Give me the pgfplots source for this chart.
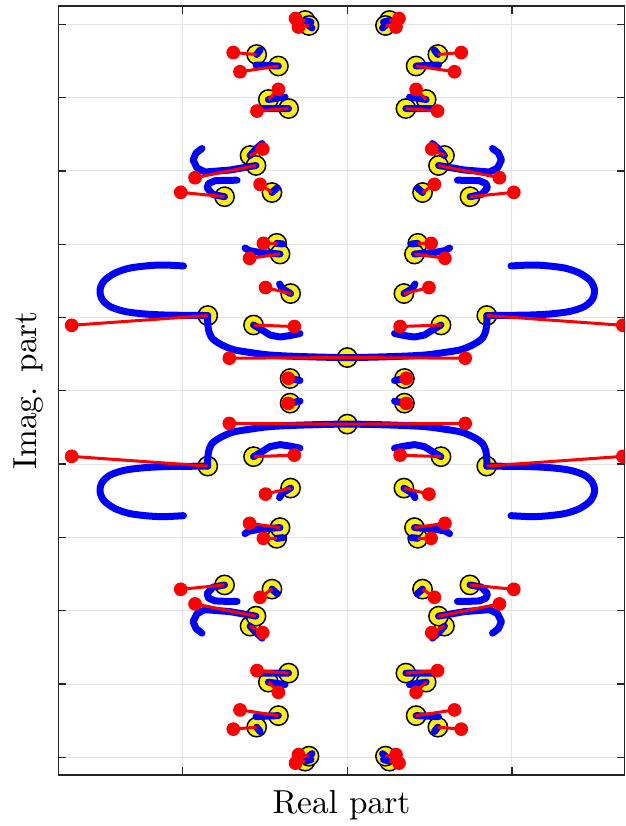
\documentclass[border=0pt]{standalone}
\usepackage{pgfplots}
\pgfplotsset{compat=1.18}
\begin{document}
\begin{tikzpicture}
\begin{axis}[
  scale only axis, width=169.9pt, height=230.7pt,
  xmin=-1.754, xmax=1.684, ymin=-5.241, ymax=5.25,
  xtick={-1,0,1}, ytick={-5,-4,-3,-2,-1,0,1,2,3,4,5},
  xticklabels={}, yticklabels={},
  tick align=inside, major tick length=2.4pt,
  grid=major, grid style={color=gray!20, line width=0.3pt},
  axis line style={color=black!85, line width=0.4pt},
  tick style={color=black!85, line width=0.4pt},
  xlabel={Real part}, ylabel={Imag. part},
  xlabel style={at={(axis description cs:0.5,-0.0507)}, anchor=base},
  ylabel style={at={(axis description cs:-0.0394,0.5)}, anchor=base},
  unbounded coords=jump,
  clip marker paths=true,
]
% yellow circles
\addplot[only marks, mark=*, mark size=2.9pt, mark options={fill=yellow, draw=black, line width=0.45pt}] coordinates {
(-0.256,5.052) (-0.232,4.984) (-0.550,4.588) (-0.418,4.431) (-0.479,3.974) (-0.356,3.851) (-0.590,3.210) (-0.554,3.074) (-0.745,2.648) (-0.457,2.705) (-0.428,2.012) (-0.408,1.866) (-0.344,1.327) (-0.569,0.898) (-0.847,1.027) (-0.347,0.168)
(0.256,5.052) (0.232,4.984) (0.550,4.588) (0.418,4.431) (0.479,3.974) (0.356,3.851) (0.590,3.210) (0.554,3.074) (0.745,2.648) (0.457,2.705) (0.428,2.012) (0.408,1.866) (0.344,1.327) (0.569,0.898) (0.847,1.027) (0.347,0.168)
(-0.256,-5.052) (-0.232,-4.984) (-0.550,-4.588) (-0.418,-4.431) (-0.479,-3.974) (-0.356,-3.851) (-0.590,-3.210) (-0.554,-3.074) (-0.745,-2.648) (-0.457,-2.705) (-0.428,-2.012) (-0.408,-1.866) (-0.344,-1.327) (-0.569,-0.898) (-0.847,-1.027) (-0.347,-0.168)
(0.256,-5.052) (0.232,-4.984) (0.550,-4.588) (0.418,-4.431) (0.479,-3.974) (0.356,-3.851) (0.590,-3.210) (0.554,-3.074) (0.745,-2.648) (0.457,-2.705) (0.428,-2.012) (0.408,-1.866) (0.344,-1.327) (0.569,-0.898) (0.847,-1.027) (0.347,-0.168)
(0,0.454) (0,-0.454)
};
% blue trajectories: the long curves
\addplot[blue, line width=2.1pt, line cap=round, line join=round, smooth, tension=0.5] coordinates {
(-0.994,1.703) (-1.106,1.716) (-1.197,1.709) (-1.319,1.675) (-1.410,1.607) (-1.477,1.498) (-1.501,1.375) (-1.489,1.252) (-1.440,1.150) (-1.349,1.082) (-1.228,1.048) (-1.106,1.034) (-0.985,1.030) (-0.847,1.027)};
\addplot[blue, line width=2.1pt, line cap=round, line join=round, smooth, tension=0.5] coordinates {
(-0.847,1.027) (-0.847,0.939) (-0.842,0.830) (-0.821,0.720) (-0.772,0.639) (-0.693,0.563) (-0.590,0.523) (-0.469,0.488) (-0.287,0.468) (0,0.454) (0.287,0.468) (0.469,0.488) (0.590,0.523) (0.693,0.563) (0.772,0.639) (0.821,0.720) (0.842,0.830) (0.847,0.939) (0.847,1.027)};
\addplot[blue, line width=2.1pt, line cap=round, line join=round, smooth, tension=0.5] coordinates {
(0.994,1.703) (1.106,1.716) (1.197,1.709) (1.319,1.675) (1.410,1.607) (1.477,1.498) (1.501,1.375) (1.489,1.252) (1.440,1.150) (1.349,1.082) (1.228,1.048) (1.106,1.034) (0.985,1.030) (0.847,1.027)};
\addplot[blue, line width=2.1pt, line cap=round, line join=round, smooth, tension=0.5] coordinates {
(-0.994,-1.703) (-1.106,-1.716) (-1.197,-1.709) (-1.319,-1.675) (-1.410,-1.607) (-1.477,-1.498) (-1.501,-1.375) (-1.489,-1.252) (-1.440,-1.150) (-1.349,-1.082) (-1.228,-1.048) (-1.106,-1.034) (-0.985,-1.030) (-0.847,-1.027)};
\addplot[blue, line width=2.1pt, line cap=round, line join=round, smooth, tension=0.5] coordinates {
(-0.847,-1.027) (-0.847,-0.939) (-0.842,-0.830) (-0.821,-0.720) (-0.772,-0.639) (-0.693,-0.563) (-0.590,-0.523) (-0.469,-0.488) (-0.287,-0.468) (0,-0.454) (0.287,-0.468) (0.469,-0.488) (0.590,-0.523) (0.693,-0.563) (0.772,-0.639) (0.821,-0.720) (0.842,-0.830) (0.847,-0.939) (0.847,-1.027)};
\addplot[blue, line width=2.1pt, line cap=round, line join=round, smooth, tension=0.5] coordinates {
(0.994,-1.703) (1.106,-1.716) (1.197,-1.709) (1.319,-1.675) (1.410,-1.607) (1.477,-1.498) (1.501,-1.375) (1.489,-1.252) (1.440,-1.150) (1.349,-1.082) (1.228,-1.048) (1.106,-1.034) (0.985,-1.030) (0.847,-1.027)};
% blue trajectories: short ones
\addplot[blue, line width=2.1pt, line cap=round, line join=round] coordinates {
(-0.256,5.052) (-0.220,5.031) (nan,nan)
(-0.232,4.984) (-0.214,4.950) (nan,nan)
(-0.550,4.588) (-0.529,4.649) (nan,nan)
(-0.418,4.431) (-0.554,4.445) (nan,nan)
(-0.479,3.974) (-0.378,4.008) (nan,nan)
(-0.356,3.851) (-0.517,3.851) (nan,nan)
(-0.590,3.210) (-0.554,3.299) (-0.517,3.374) (nan,nan)
(-0.554,3.074) (-0.712,3.012) (-0.863,2.985) (-0.912,3.040) (-0.936,3.149) (-0.918,3.244) (-0.882,3.306) (nan,nan)
(-0.745,2.648) (-0.815,2.678) (-0.851,2.767) (-0.842,2.828) (-0.803,2.866) (-0.736,2.872) (-0.669,2.873) (nan,nan)
(-0.457,2.705) (-0.426,2.767) (nan,nan)
(-0.428,2.012) (-0.390,2.003) (nan,nan)
(-0.408,1.866) (-0.529,1.887) (-0.596,1.914) (-0.621,1.948) (nan,nan)
(-0.344,1.327) (-0.396,1.396) (-0.411,1.457) (nan,nan)
(-0.569,0.898) (-0.517,0.830) (-0.469,0.761) (-0.408,0.734) (-0.347,0.754) (-0.287,0.782) (nan,nan)
(-0.347,0.168) (-0.287,0.141) (nan,nan)
(0.256,5.052) (0.220,5.031) (nan,nan)
(0.232,4.984) (0.214,4.950) (nan,nan)
(0.550,4.588) (0.529,4.649) (nan,nan)
(0.418,4.431) (0.554,4.445) (nan,nan)
(0.479,3.974) (0.378,4.008) (nan,nan)
(0.356,3.851) (0.517,3.851) (nan,nan)
(0.590,3.210) (0.554,3.299) (0.517,3.374) (nan,nan)
(0.554,3.074) (0.712,3.012) (0.863,2.985) (0.912,3.040) (0.936,3.149) (0.918,3.244) (0.882,3.306) (nan,nan)
(0.745,2.648) (0.815,2.678) (0.851,2.767) (0.842,2.828) (0.803,2.866) (0.736,2.872) (0.669,2.873) (nan,nan)
(0.457,2.705) (0.426,2.767) (nan,nan)
(0.428,2.012) (0.390,2.003) (nan,nan)
(0.408,1.866) (0.529,1.887) (0.596,1.914) (0.621,1.948) (nan,nan)
(0.344,1.327) (0.396,1.396) (0.411,1.457) (nan,nan)
(0.569,0.898) (0.517,0.830) (0.469,0.761) (0.408,0.734) (0.347,0.754) (0.287,0.782) (nan,nan)
(0.347,0.168) (0.287,0.141) (nan,nan)
(-0.256,-5.052) (-0.220,-5.031) (nan,nan)
(-0.232,-4.984) (-0.214,-4.950) (nan,nan)
(-0.550,-4.588) (-0.529,-4.649) (nan,nan)
(-0.418,-4.431) (-0.554,-4.445) (nan,nan)
(-0.479,-3.974) (-0.378,-4.008) (nan,nan)
(-0.356,-3.851) (-0.517,-3.851) (nan,nan)
(-0.590,-3.210) (-0.554,-3.299) (-0.517,-3.374) (nan,nan)
(-0.554,-3.074) (-0.712,-3.012) (-0.863,-2.985) (-0.912,-3.040) (-0.936,-3.149) (-0.918,-3.244) (-0.882,-3.306) (nan,nan)
(-0.745,-2.648) (-0.815,-2.678) (-0.851,-2.767) (-0.842,-2.828) (-0.803,-2.866) (-0.736,-2.872) (-0.669,-2.873) (nan,nan)
(-0.457,-2.705) (-0.426,-2.767) (nan,nan)
(-0.428,-2.012) (-0.390,-2.003) (nan,nan)
(-0.408,-1.866) (-0.529,-1.887) (-0.596,-1.914) (-0.621,-1.948) (nan,nan)
(-0.344,-1.327) (-0.396,-1.396) (-0.411,-1.457) (nan,nan)
(-0.569,-0.898) (-0.517,-0.830) (-0.469,-0.761) (-0.408,-0.734) (-0.347,-0.754) (-0.287,-0.782) (nan,nan)
(-0.347,-0.168) (-0.287,-0.141) (nan,nan)
(0.256,-5.052) (0.220,-5.031) (nan,nan)
(0.232,-4.984) (0.214,-4.950) (nan,nan)
(0.550,-4.588) (0.529,-4.649) (nan,nan)
(0.418,-4.431) (0.554,-4.445) (nan,nan)
(0.479,-3.974) (0.378,-4.008) (nan,nan)
(0.356,-3.851) (0.517,-3.851) (nan,nan)
(0.590,-3.210) (0.554,-3.299) (0.517,-3.374) (nan,nan)
(0.554,-3.074) (0.712,-3.012) (0.863,-2.985) (0.912,-3.040) (0.936,-3.149) (0.918,-3.244) (0.882,-3.306) (nan,nan)
(0.745,-2.648) (0.815,-2.678) (0.851,-2.767) (0.842,-2.828) (0.803,-2.866) (0.736,-2.872) (0.669,-2.873) (nan,nan)
(0.457,-2.705) (0.426,-2.767) (nan,nan)
(0.428,-2.012) (0.390,-2.003) (nan,nan)
(0.408,-1.866) (0.529,-1.887) (0.596,-1.914) (0.621,-1.948) (nan,nan)
(0.344,-1.327) (0.396,-1.396) (0.411,-1.457) (nan,nan)
(0.569,-0.898) (0.517,-0.830) (0.469,-0.761) (0.408,-0.734) (0.347,-0.754) (0.287,-0.782) (nan,nan)
(0.347,-0.168) (0.287,-0.141)
};
% red lines
\addplot[red, line width=0.9pt] coordinates {
(-0.256,5.052) (-0.314,5.079) (nan,nan) (-0.232,4.984) (-0.296,4.963) (nan,nan)
(-0.550,4.588) (-0.692,4.615) (nan,nan) (-0.418,4.431) (-0.651,4.353) (nan,nan)
(-0.479,3.974) (-0.418,4.113) (nan,nan) (-0.356,3.851) (-0.548,3.817) (nan,nan)
(-0.590,3.210) (-0.513,3.299) (nan,nan) (-0.554,3.074) (-0.924,2.907) (nan,nan)
(-0.745,2.648) (-1.011,2.708) (nan,nan) (-0.457,2.705) (-0.529,2.817) (nan,nan)
(-0.428,2.012) (-0.509,2.012) (nan,nan) (-0.408,1.866) (-0.593,1.808) (nan,nan)
(-0.344,1.327) (-0.496,1.409) (nan,nan) (-0.569,0.898) (-0.321,0.877) (nan,nan)
(-0.847,1.027) (-1.673,0.894) (nan,nan) (0,0.454) (-0.716,0.445) (nan,nan)
(-0.347,0.168) (-0.358,0.171) (nan,nan)
(0.256,5.052) (0.314,5.079) (nan,nan) (0.232,4.984) (0.296,4.963) (nan,nan)
(0.550,4.588) (0.692,4.615) (nan,nan) (0.418,4.431) (0.651,4.353) (nan,nan)
(0.479,3.974) (0.418,4.113) (nan,nan) (0.356,3.851) (0.548,3.817) (nan,nan)
(0.590,3.210) (0.513,3.299) (nan,nan) (0.554,3.074) (0.924,2.907) (nan,nan)
(0.745,2.648) (1.011,2.708) (nan,nan) (0.457,2.705) (0.529,2.817) (nan,nan)
(0.428,2.012) (0.509,2.012) (nan,nan) (0.408,1.866) (0.593,1.808) (nan,nan)
(0.344,1.327) (0.496,1.409) (nan,nan) (0.569,0.898) (0.321,0.877) (nan,nan)
(0.847,1.027) (1.673,0.894) (nan,nan) (0,0.454) (0.716,0.445) (nan,nan)
(0.347,0.168) (0.358,0.171) (nan,nan)
(-0.256,-5.052) (-0.314,-5.079) (nan,nan) (-0.232,-4.984) (-0.296,-4.963) (nan,nan)
(-0.550,-4.588) (-0.692,-4.615) (nan,nan) (-0.418,-4.431) (-0.651,-4.353) (nan,nan)
(-0.479,-3.974) (-0.418,-4.113) (nan,nan) (-0.356,-3.851) (-0.548,-3.817) (nan,nan)
(-0.590,-3.210) (-0.513,-3.299) (nan,nan) (-0.554,-3.074) (-0.924,-2.907) (nan,nan)
(-0.745,-2.648) (-1.011,-2.708) (nan,nan) (-0.457,-2.705) (-0.529,-2.817) (nan,nan)
(-0.428,-2.012) (-0.509,-2.012) (nan,nan) (-0.408,-1.866) (-0.593,-1.808) (nan,nan)
(-0.344,-1.327) (-0.496,-1.409) (nan,nan) (-0.569,-0.898) (-0.321,-0.877) (nan,nan)
(-0.847,-1.027) (-1.673,-0.894) (nan,nan) (0,-0.454) (-0.716,-0.445) (nan,nan)
(-0.347,-0.168) (-0.358,-0.171) (nan,nan)
(0.256,-5.052) (0.314,-5.079) (nan,nan) (0.232,-4.984) (0.296,-4.963) (nan,nan)
(0.550,-4.588) (0.692,-4.615) (nan,nan) (0.418,-4.431) (0.651,-4.353) (nan,nan)
(0.479,-3.974) (0.418,-4.113) (nan,nan) (0.356,-3.851) (0.548,-3.817) (nan,nan)
(0.590,-3.210) (0.513,-3.299) (nan,nan) (0.554,-3.074) (0.924,-2.907) (nan,nan)
(0.745,-2.648) (1.011,-2.708) (nan,nan) (0.457,-2.705) (0.529,-2.817) (nan,nan)
(0.428,-2.012) (0.509,-2.012) (nan,nan) (0.408,-1.866) (0.593,-1.808) (nan,nan)
(0.344,-1.327) (0.496,-1.409) (nan,nan) (0.569,-0.898) (0.321,-0.877) (nan,nan)
(0.847,-1.027) (1.673,-0.894) (nan,nan) (0,-0.454) (0.716,-0.445) (nan,nan)
(0.347,-0.168) (0.358,-0.171)
};
% red end points
\addplot[only marks, mark=*, mark size=1.85pt, mark options={fill=red, draw=red}] coordinates {
(-0.314,5.079) (-0.296,4.963) (-0.692,4.615) (-0.651,4.353) (-0.418,4.113) (-0.548,3.817) (-0.513,3.299) (-0.924,2.907) (-1.011,2.708) (-0.529,2.817) (-0.509,2.012) (-0.593,1.808) (-0.496,1.409) (-0.321,0.877) (-1.673,0.894) (-0.716,0.445) (-0.358,0.171)
(0.314,5.079) (0.296,4.963) (0.692,4.615) (0.651,4.353) (0.418,4.113) (0.548,3.817) (0.513,3.299) (0.924,2.907) (1.011,2.708) (0.529,2.817) (0.509,2.012) (0.593,1.808) (0.496,1.409) (0.321,0.877) (1.673,0.894) (0.716,0.445) (0.358,0.171)
(-0.314,-5.079) (-0.296,-4.963) (-0.692,-4.615) (-0.651,-4.353) (-0.418,-4.113) (-0.548,-3.817) (-0.513,-3.299) (-0.924,-2.907) (-1.011,-2.708) (-0.529,-2.817) (-0.509,-2.012) (-0.593,-1.808) (-0.496,-1.409) (-0.321,-0.877) (-1.673,-0.894) (-0.716,-0.445) (-0.358,-0.171)
(0.314,-5.079) (0.296,-4.963) (0.692,-4.615) (0.651,-4.353) (0.418,-4.113) (0.548,-3.817) (0.513,-3.299) (0.924,-2.907) (1.011,-2.708) (0.529,-2.817) (0.509,-2.012) (0.593,-1.808) (0.496,-1.409) (0.321,-0.877) (1.673,-0.894) (0.716,-0.445) (0.358,-0.171)
};
\coordinate (ll) at (axis description cs:0,0);
\coordinate (ur) at (axis description cs:1,1);
\end{axis}
\pgfresetboundingbox
\path ([xshift=-17.5pt,yshift=-15.3pt]ll) rectangle ([xshift=0.2pt,yshift=1.8pt]ur);
\end{tikzpicture}
\end{document}
